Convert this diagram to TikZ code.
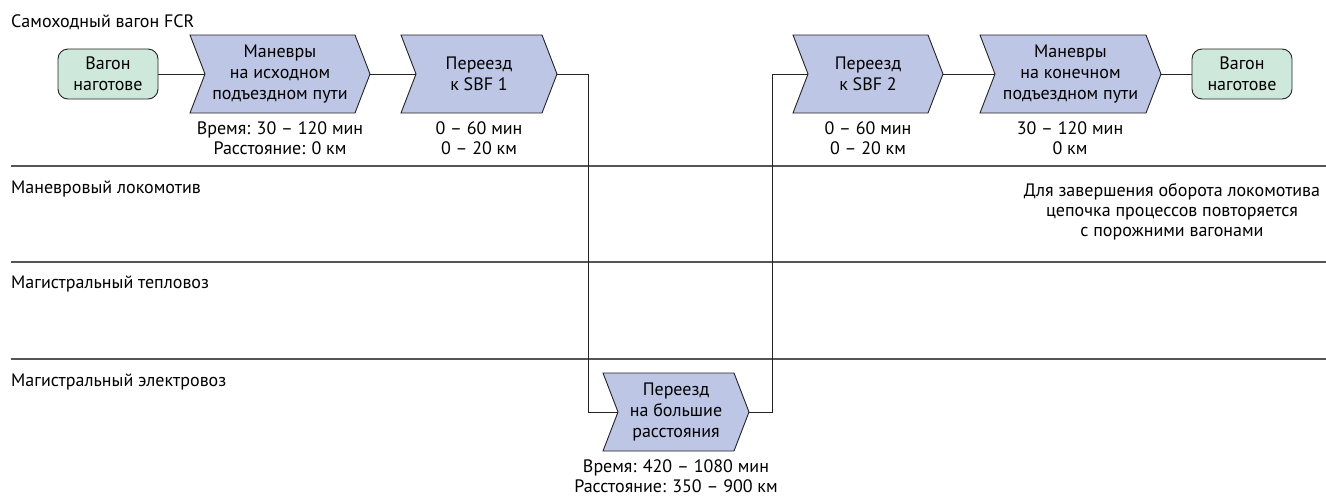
\documentclass[tikz,border=0pt]{standalone}
\usepackage{fontspec}
\setmainfont{PT Sans}
\usetikzlibrary{calc}

\definecolor{chevfill}{RGB}{190,198,230}
\definecolor{startfill}{RGB}{206,232,220}
\definecolor{lanegray}{RGB}{85,85,85}
\definecolor{wirecol}{RGB}{35,35,35}

\tikzset{
  proc/.style={draw=wirecol, line width=0.9pt, fill=chevfill, line join=miter},
  proctext/.style={align=center, font=\fontsize{18}{21}\selectfont, inner sep=0pt},
  state/.style={draw=wirecol, line width=0.9pt, fill=startfill, rounded corners=10pt,
    minimum width=100pt, minimum height=50pt, align=center,
    font=\fontsize{18}{21}\selectfont, inner sep=0pt},
  note/.style={align=center, font=\fontsize{18}{20}\selectfont, inner sep=0pt},
  lanelabel/.style={anchor=west, font=\fontsize{18}{20}\selectfont, inner sep=0pt},
  lane/.style={draw=lanegray, line width=1.5pt},
  wire/.style={draw=wirecol, line width=1pt}
}

% chevron process box: name, left x, tip x, centre y, text
\newcommand\procshape[5]{%
  \path[proc] (#2,#4-39) -- (#3-15,#4-39) -- (#3,#4) -- (#3-15,#4+39)
    -- (#2,#4+39) -- (#2+15,#4) -- cycle;
  \coordinate (#1-in) at (#2+15,#4);
  \coordinate (#1-out) at (#3,#4);
  \node[proctext] (#1) at ({(#2+#3)/2},#4) {#5};
}

\begin{document}
\begin{tikzpicture}[x=1pt,y=-1pt]
\useasboundingbox (0,0) rectangle (1326,496);

% swimlane separators
\draw[lane] (11,166) -- (1326,166);
\draw[lane] (11,262) -- (1326,262);
\draw[lane] (11,359) -- (1326,359);

% lane titles
\node[lanelabel] (lane1) at (11,22) {Самоходный вагон FCR};
\node[lanelabel] (lane2) at (11,189) {Маневровый локомотив};
\node[lanelabel] (lane3) at (11,284) {Магистральный тепловоз};
\node[lanelabel] (lane4) at (11,382) {Магистральный электровоз};

% start / end states
\node[state] (s1) at (108,74) {Вагон\\наготове};
\node[state] (s2) at (1242,74) {Вагон\\наготове};

% process chain
\procshape{p1}{190}{370}{74}{Маневры\\на исходном\\подъездном пути}
\procshape{p2}{401}{557}{74}{Переезд\\к SBF 1}
\procshape{p3}{603}{749}{412}{Переезд\\на большие\\расстояния}
\procshape{p4}{793}{943}{74}{Переезд\\к SBF 2}
\procshape{p5}{980}{1161}{74}{Маневры\\на конечном\\подъездном пути}

% time / distance figures
\node[note] (d1) at (280,138) {Время: 30 – 120 мин\\Расстояние: 0 км};
\node[note] (d2) at (479,138) {0 – 60 мин\\0 – 20 км};
\node[note] (d3) at (676,476) {Время: 420 – 1080 мин\\Расстояние: 350 – 900 км};
\node[note] (d4) at (868,138) {0 – 60 мин\\0 – 20 км};
\node[note] (d5) at (1070,138) {30 – 120 мин\\0 км};

\node[note] (n1) at (1172,212) {Для завершения оборота локомотива\\цепочка процессов повторяется\\с порожними вагонами};

% connectors
\draw[wire] (s1.east) -- (p1-in);
\draw[wire] (p1-out) -- (p2-in);
\draw[wire] (p2-out) -- ++(31,0) |- (p3-in);
\draw[wire] (p3-out) -- ++(23,0) |- (p4-in);
\draw[wire] (p4-out) -- (p5-in);
\draw[wire] (p5-out) -- (s2.west);
\end{tikzpicture}
\end{document}
